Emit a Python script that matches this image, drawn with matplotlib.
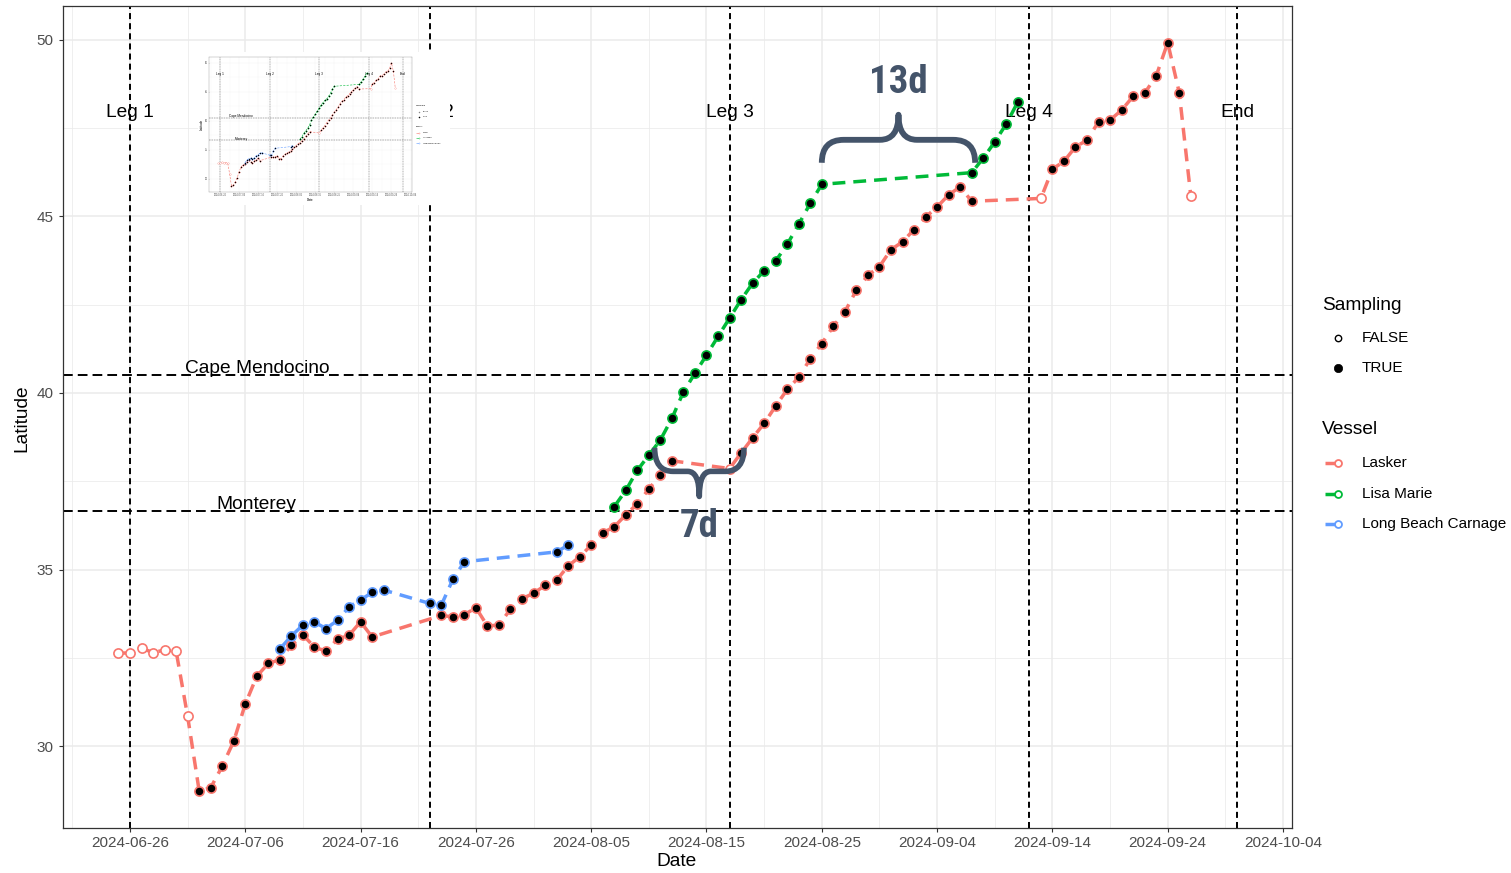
import numpy as np
import matplotlib
matplotlib.use("Agg")
import matplotlib.pyplot as plt
import matplotlib.dates as mdates
from matplotlib.path import Path
from matplotlib.patches import PathPatch
from matplotlib import font_manager
from matplotlib.font_manager import FontProperties

plt.rcParams["font.family"] = ["Liberation Sans", "DejaVu Sans"]

# ---------------- data ----------------
lasker_dates = [
    "2024-06-25", "2024-06-26", "2024-06-27", "2024-06-28", "2024-06-29", "2024-06-30", "2024-07-01",
    "2024-07-02", "2024-07-03", "2024-07-04", "2024-07-05", "2024-07-06", "2024-07-07", "2024-07-08",
    "2024-07-09", "2024-07-10", "2024-07-11", "2024-07-12", "2024-07-13", "2024-07-14", "2024-07-15",
    "2024-07-16", "2024-07-17",
    "2024-07-23", "2024-07-24", "2024-07-25", "2024-07-26", "2024-07-27", "2024-07-28", "2024-07-29",
    "2024-07-30", "2024-07-31", "2024-08-01", "2024-08-02", "2024-08-03", "2024-08-04", "2024-08-05",
    "2024-08-06", "2024-08-07", "2024-08-08", "2024-08-09", "2024-08-10", "2024-08-11", "2024-08-12",
    "2024-08-17", "2024-08-18", "2024-08-19", "2024-08-20", "2024-08-21", "2024-08-22", "2024-08-23",
    "2024-08-24", "2024-08-25", "2024-08-26", "2024-08-27", "2024-08-28", "2024-08-29", "2024-08-30",
    "2024-08-31", "2024-09-01", "2024-09-02", "2024-09-03", "2024-09-04", "2024-09-05", "2024-09-06",
    "2024-09-07", "2024-09-13", "2024-09-14", "2024-09-15", "2024-09-16", "2024-09-17", "2024-09-18",
    "2024-09-19", "2024-09-20", "2024-09-21", "2024-09-22", "2024-09-23", "2024-09-24", "2024-09-25",
    "2024-09-26",
]
lasker_lat = [
    32.63, 32.64, 32.77, 32.65, 32.72, 32.69, 30.84,
    28.73, 28.82, 29.43, 30.14, 31.19, 31.98, 32.34,
    32.45, 32.86, 33.15, 32.80, 32.69, 33.03, 33.14,
    33.52, 33.09,
    33.70, 33.66, 33.72, 33.92, 33.40, 33.43, 33.88,
    34.17, 34.33, 34.55, 34.70, 35.10, 35.36, 35.69,
    36.04, 36.21, 36.55, 36.86, 37.28, 37.69, 38.08,
    37.86, 38.30, 38.73, 39.14, 39.63, 40.10, 40.44,
    40.97, 41.40, 41.89, 42.30, 42.91, 43.33, 43.58,
    44.06, 44.28, 44.63, 44.98, 45.27, 45.61, 45.84,
    45.43, 45.51, 46.34, 46.56, 46.97, 47.16, 47.68,
    47.73, 48.01, 48.40, 48.49, 48.98, 49.92, 48.51,
    45.59,
]
T, F = True, False
lasker_sampling = [
    F, F, F, F, F, F, F,
    T, T, T, T, T, T, T,
    T, T, T, T, T, T, T,
    T, T,
    T, T, T, T, T, T, T,
    T, T, T, T, T, T, T,
    T, T, T, T, T, T, T,
    F, T, T, T, T, T, T,
    T, T, T, T, T, T, T,
    T, T, T, T, T, T, T,
    T, F, T, T, T, T, T,
    T, T, T, T, T, T, T,
    F,
]

lisa_dates = [
    "2024-08-07", "2024-08-08", "2024-08-09", "2024-08-10", "2024-08-11", "2024-08-12", "2024-08-13",
    "2024-08-14", "2024-08-15", "2024-08-16", "2024-08-17", "2024-08-18", "2024-08-19", "2024-08-20",
    "2024-08-21", "2024-08-22", "2024-08-23", "2024-08-24", "2024-08-25",
    "2024-09-07", "2024-09-08", "2024-09-09", "2024-09-10", "2024-09-11",
]
lisa_lat = [
    36.78, 37.24, 37.81, 38.24, 38.67, 39.28, 40.03,
    40.56, 41.07, 41.60, 42.12, 42.64, 43.11, 43.46,
    43.74, 44.21, 44.78, 45.37, 45.91,
    46.24, 46.65, 47.11, 47.62, 48.24,
]
lisa_sampling = [T] * len(lisa_dates)

lbc_dates = [
    "2024-07-09", "2024-07-10", "2024-07-11", "2024-07-12", "2024-07-13", "2024-07-14", "2024-07-15",
    "2024-07-16", "2024-07-17", "2024-07-18",
    "2024-07-22", "2024-07-23", "2024-07-24", "2024-07-25",
    "2024-08-02", "2024-08-03",
]
lbc_lat = [
    32.75, 33.12, 33.43, 33.51, 33.33, 33.56, 33.94,
    34.14, 34.35, 34.42,
    34.04, 33.99, 34.72, 35.22,
    35.50, 35.69,
]
lbc_sampling = [T] * len(lbc_dates)

vessel_names = ["Lasker", "Lisa Marie", "Long Beach Carnage"]
vessel_colors = ["#F8766D", "#00BA38", "#619CFF"]

leg_names = ["Leg 1", "Leg 2", "Leg 3", "Leg 4", "End"]
leg_dates = ["2024-06-26", "2024-07-22", "2024-08-17", "2024-09-12", "2024-09-30"]
leg_label_lat = 47.95

landmark_names = ["Cape Mendocino", "Monterey"]
landmark_lat = [40.50, 36.65]
landmark_label_date = "2024-07-07"

gap_labels = ["13d", "7d"]

# ---------------- helpers ----------------
W, H, DPI = 1511, 873, 100
BRACE_COLOR = "#44546A"
GRID = "#EBEBEB"


def dnum(d):
    return mdates.date2num(np.datetime64(d))


BASE = dnum("2024-06-26")
XLIM = (BASE - 5.81, BASE + 100.78)
YLIM = (27.68, 50.96)

vessels = [
    (lasker_dates, lasker_lat, lasker_sampling),
    (lisa_dates, lisa_lat, lisa_sampling),
    (lbc_dates, lbc_lat, lbc_sampling),
]


def draw_panel(ax, s):
    ax.set_xlim(*XLIM)
    ax.set_ylim(*YLIM)
    ax.set_xticks([BASE + 10 * k for k in range(0, 11)])
    ax.set_xticks([BASE - 5 + 10 * k for k in range(0, 11)], minor=True)
    ax.set_yticks([30, 35, 40, 45, 50])
    ax.set_yticks([32.5, 37.5, 42.5, 47.5], minor=True)
    ax.xaxis.set_major_formatter(mdates.DateFormatter("%Y-%m-%d"))
    ax.grid(which="major", color=GRID, lw=1.1 * s)
    ax.grid(which="minor", color=GRID, lw=0.55 * s)
    ax.set_axisbelow(True)
    for sp in ax.spines.values():
        sp.set_color("#333333")
        sp.set_linewidth(0.9 * s)
    ax.tick_params(which="major", length=3.0 * s, width=0.8 * s, color="#333333",
                   labelcolor="#4D4D4D", labelsize=11 * s, pad=2.6 * s)
    ax.tick_params(axis="y", pad=4.0 * s)
    ax.tick_params(which="minor", length=0)

    # reference lines
    for d in leg_dates:
        ax.axvline(dnum(d), color="black", lw=1.4 * s, ls=(0, (3.1, 2.1)), zorder=2)
    for lat in landmark_lat:
        ax.axhline(lat, color="black", lw=1.4 * s, ls=(0, (5.0, 2.6)), zorder=2)
    for name, d in zip(leg_names, leg_dates):
        ax.text(dnum(d), leg_label_lat, name, ha="center", va="center",
                fontsize=13.75 * s, color="black", zorder=2.2)
    for name, lat in zip(landmark_names, landmark_lat):
        ax.text(dnum(landmark_label_date), lat + 0.2, name, ha="center", va="center",
                fontsize=13.75 * s, color="black", zorder=2.2)

    # tracks
    for (dates, lat, _), col in zip(vessels, vessel_colors):
        x = [dnum(d) for d in dates]
        ax.plot(x, lat, color=col, lw=2.5 * s, ls=(0, (3.7, 2.3)), zorder=3)
    for (dates, lat, samp), col in zip(vessels, vessel_colors):
        x = np.array([dnum(d) for d in dates])
        y = np.array(lat)
        m = np.array(samp)
        ax.plot(x[m], y[m], ls="none", marker="o", ms=6.6 * s, mfc="black",
                mec=col, mew=1.2 * s, zorder=4)
        ax.plot(x[~m], y[~m], ls="none", marker="o", ms=6.6 * s, mfc="white",
                mec=col, mew=1.2 * s, zorder=4)


def brace(ax, x0, x1, y_end, y_mid, y_tip, r_end, r_tip, lw):
    xm = 0.5 * (x0 + x1)
    verts = [(x0, y_end), (x0, y_mid), (x0 + r_end, y_mid),
             (xm - r_tip, y_mid), (xm, y_mid), (xm, y_tip),
             (xm, y_mid), (xm + r_tip, y_mid),
             (x1 - r_end, y_mid), (x1, y_mid), (x1, y_end)]
    codes = [Path.MOVETO, Path.CURVE3, Path.CURVE3,
             Path.LINETO, Path.CURVE3, Path.CURVE3,
             Path.CURVE3, Path.CURVE3,
             Path.LINETO, Path.CURVE3, Path.CURVE3]
    ax.add_patch(PathPatch(Path(verts, codes), fc="none", ec=BRACE_COLOR, lw=lw,
                           capstyle="butt", joinstyle="round", zorder=6))


def gap_font_props():
    # a narrow bold face for the gap labels, Roboto Bold otherwise
    for key in ("roboto condensed", "open sans condensed", "liberation sans narrow"):
        for f in font_manager.fontManager.ttflist:
            w = f.weight if isinstance(f.weight, (int, float)) else 400
            if f.name.lower().startswith(key) and w >= 600 and f.style == "normal":
                return FontProperties(fname=f.fname, size=28)
    return FontProperties(family=["Roboto", "DejaVu Sans"], weight="bold", size=26)


# ---------------- figure ----------------
fig = plt.figure(figsize=(W / DPI, H / DPI), dpi=DPI)
fig.patch.set_facecolor("white")


def px_axes(x0, y0, x1, y1, **kw):
    return fig.add_axes([x0 / W, 1 - y1 / H, (x1 - x0) / W, (y1 - y0) / H], **kw)


ax = px_axes(63, 6, 1292, 828)
draw_panel(ax, 1.0)
ax.set_xlabel("Date", fontsize=13.75)
ax.set_ylabel("Latitude", fontsize=13.75)
ax.xaxis.set_label_coords((677 - 63) / 1229, (828 - 862) / 822)
ax.xaxis.label.set_va("center")
ax.yaxis.set_label_coords((22 - 63) / 1229, (828 - 418) / 822)
ax.yaxis.label.set_va("center")

# transit-gap braces
gfp = gap_font_props()
brace(ax, BASE + 60.0, BASE + 73.3, 46.52, 47.17, 47.88, 1.9, 1.6, 4.2)
ax.text(BASE + 66.65, 48.79, gap_labels[0], ha="center", va="center",
        color=BRACE_COLOR, zorder=6, fontproperties=gfp)
brace(ax, BASE + 45.5, BASE + 53.25, 38.45, 37.78, 37.07, 1.6, 1.0, 4.0)
ax.text(BASE + 49.4, 36.23, gap_labels[1], ha="center", va="center",
        color=BRACE_COLOR, zorder=6, fontproperties=gfp)

# miniature overview in the upper left
bg = px_axes(198, 52, 450, 205, zorder=10)
bg.set_facecolor("white")
bg.set_xticks([])
bg.set_yticks([])
for sp in bg.spines.values():
    sp.set_visible(False)
S = 203 / 1229
mini = px_axes(209, 57, 412, 192, zorder=11)
draw_panel(mini, S)
mini.set_xlabel("Date", fontsize=13.75 * S, labelpad=0.5)
mini.set_ylabel("Latitude", fontsize=13.75 * S, labelpad=0.5)

# legends (pixel-coordinate overlay)
ov = fig.add_axes([0, 0, 1, 1], zorder=20)
ov.set_xlim(0, W)
ov.set_ylim(H, 0)
ov.axis("off")


def draw_legend(x0, ys, s, ts=1.0):
    title_x, mark_x, text_x = x0, x0 + 15.7 * s, x0 + 40 * s
    ov.text(title_x, ys[0], "Sampling", fontsize=13.75 * s * ts, ha="left", va="center")
    ov.plot([mark_x], [ys[1]], marker="o", ms=4.6 * s, mfc="white", mec="black", mew=1.0 * s)
    ov.text(text_x, ys[1], "FALSE", fontsize=11 * s * ts, ha="left", va="center")
    ov.plot([mark_x], [ys[2]], marker="o", ms=6.0 * s, mfc="black", mec="black", mew=0.5 * s)
    ov.text(text_x, ys[2], "TRUE", fontsize=11 * s * ts, ha="left", va="center")
    ov.text(title_x, ys[3], "Vessel", fontsize=13.75 * s * ts, ha="left", va="center")
    for name, col, y in zip(vessel_names, vessel_colors, ys[4:]):
        ov.plot([x0 + 3 * s, x0 + 18 * s], [y, y], color=col, lw=2.5 * s,
                solid_capstyle="butt")
        ov.plot([mark_x], [y], marker="o", ms=5.0 * s, mfc="white", mec=col, mew=1.3 * s)
        ov.text(text_x, y, name, fontsize=11 * s * ts, ha="left", va="center")


draw_legend(1322, [305, 337.7, 367.7, 430, 463.3, 493.8, 524.3], 1.0)
draw_legend(416, [105.6, 111.8, 116.6, 126.8, 132.5, 137.8, 143.1], S, ts=0.75)

fig.savefig("out.png", dpi=DPI)
